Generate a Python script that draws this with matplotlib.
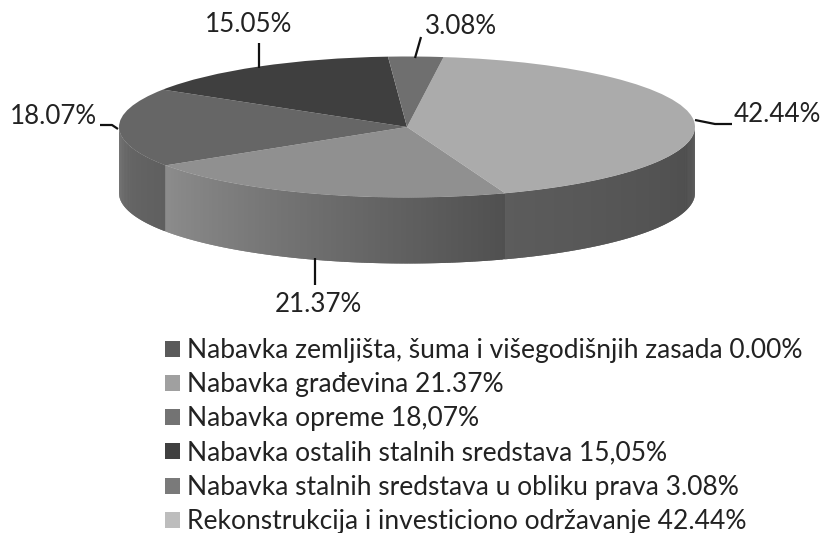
import numpy as np
import matplotlib
matplotlib.use("Agg")
import matplotlib.pyplot as plt
from matplotlib.patches import Patch
from matplotlib.transforms import Affine2D
from matplotlib.colors import to_rgb

# --- data ---
slice_names = ["Rekonstrukcija i investiciono održavanje", "Nabavka građevina", "Nabavka opreme",
               "Nabavka ostalih stalnih sredstava", "Nabavka stalnih sredstava u obliku prava"]
slice_values = [42.44, 21.37, 18.07, 15.05, 3.08]
slice_labels = ["42.44%", "21.37%", "18.07%", "15.05%", "3.08%"]
top_colors = ["#ababab", "#909090", "#666666", "#3f3f3f", "#6f6f6f"]
wall_start = ["#4c4c4c", "#505050", "#5f5f5f", "#444444", "#555555"]
wall_end = ["#5c5c5c", "#8c8c8c", "#6a6a6a", "#444444", "#555555"]

legend_labels = ["Nabavka zemljišta, šuma i višegodišnjih zasada 0.00%",
                 "Nabavka građevina 21.37%",
                 "Nabavka opreme 18,07%",
                 "Nabavka ostalih stalnih sredstava 15,05%",
                 "Nabavka stalnih sredstava u obliku prava 3.08%",
                 "Rekonstrukcija i investiciono održavanje 42.44%"]
legend_colors = ["#5a5a5a", "#a0a0a0", "#737373", "#404040", "#7a7a7a", "#bdbdbd"]

# --- geometry / style ---
CX, CY, RX, RY, DEPTH = 407, 127, 288, 70.5, 66
START = 82.7
FONT = "Lato"
TXT = "#222222"

fig = plt.figure(figsize=(8.24, 5.33), dpi=100, facecolor="white")
ax = fig.add_axes([0, 0, 1, 1])

wedges, _ = ax.pie(slice_values, startangle=START, counterclock=False, colors=top_colors,
                   radius=1, center=(0, 0), wedgeprops=dict(linewidth=0))
ellipse = Affine2D().scale(RX, -RY).translate(CX, CY) + ax.transData
for w in wedges:
    w.set_transform(ellipse)
    w.set_zorder(5)
    w.set_clip_on(False)

ax.set_aspect("auto")
ax.set_xlim(0, 824)
ax.set_ylim(533, 0)
ax.axis("off")

# side wall: overlapping shaded strips along the visible (front) part of each slice
total = sum(slice_values)
a0 = START
for v, c0, c1 in zip(slice_values, wall_start, wall_end):
    a1 = a0 - v / total * 360.0
    lo, hi = max(a1, -180.0), min(a0, 0.0)
    if hi > lo:
        edges = np.linspace(hi, lo, int(hi - lo) * 2 + 2)
        n = len(edges) - 1
        for i in range(n):
            f = (i + 0.5) / n
            col = tuple((1 - f) * a + f * b for a, b in zip(to_rgb(c0), to_rgb(c1)))
            t = np.radians(np.linspace(edges[i], edges[min(i + 2, n)], 4))
            x = CX + RX * np.cos(t)
            y = CY - RY * np.sin(t)
            ax.fill(np.r_[x, x[::-1]], np.r_[y, y[::-1] + DEPTH], color=col, lw=0, zorder=3)
    a0 = a1

# leader lines and labels
leaders = [([695, 715, 732], [120, 124, 124]),
           ([315, 315], [258, 285]),
           ([118, 112, 100], [129, 125, 125]),
           ([259, 259], [68, 43]),
           ([415, 421], [58, 37])]
label_pos = [(777, 114), (318, 304), (53, 117), (249, 25), (461, 27)]
for (lx, ly), lab, (tx, ty) in zip(leaders, slice_labels, label_pos):
    ax.plot(lx, ly, color="#111111", lw=1.6, zorder=6, solid_capstyle="butt")
    ax.text(tx, ty, lab, fontsize=18.7, family=FONT, color=TXT, ha="center", va="center")

handles = [Patch(facecolor=c, edgecolor="none") for c in legend_colors]
ax.legend(handles, legend_labels, loc="upper left", bbox_to_anchor=(165, 338),
          bbox_transform=ax.transData, frameon=False, borderpad=0, borderaxespad=0,
          prop=dict(family=FONT, size=19), labelcolor=TXT, labelspacing=0.35,
          handlelength=0.55, handleheight=0.55, handletextpad=0.3)

fig.savefig("out.png", dpi=100, facecolor="white")
